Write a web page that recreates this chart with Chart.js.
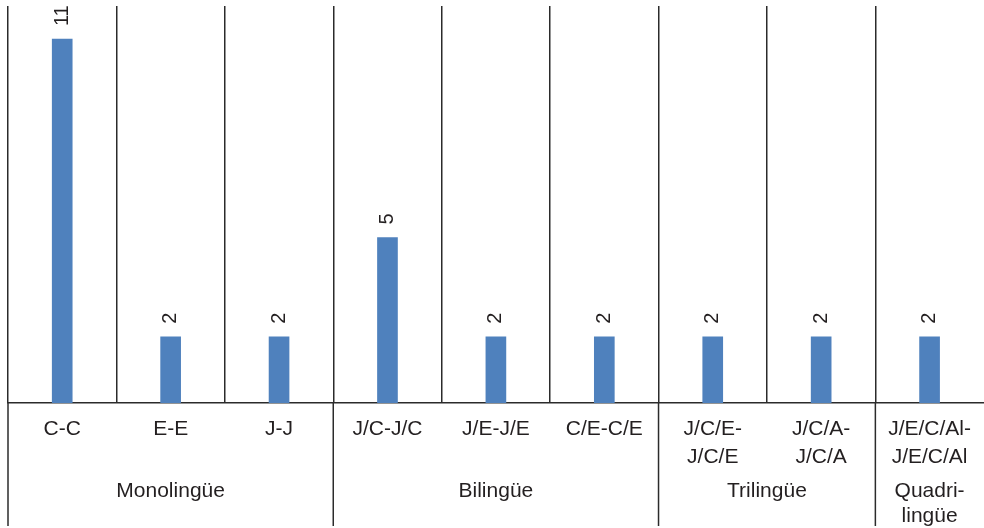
<!DOCTYPE html>
<html>
<head>
<meta charset="utf-8">
<script src="https://cdn.jsdelivr.net/npm/chart.js@4"></script>
<style>
    html, body { margin: 0; padding: 0; background: #fff; }
    #wrap { width: 984px; height: 528px; }
</style>
</head>
<body>
<div id="wrap"><canvas id="pairChart"></canvas></div>
<script>
const categories = [['C-C'], ['E-E'], ['J-J'], ['J/C-J/C'], ['J/E-J/E'], ['C/E-C/E'],
    ['J/C/E-', 'J/C/E'], ['J/C/A-', 'J/C/A'], ['J/E/C/Al-', 'J/E/C/Al']];
const counts = [11, 2, 2, 5, 2, 2, 2, 2, 2];
const groups = [['Monolingüe'], ['Bilingüe'], ['Trilingüe'], ['Quadri-', 'lingüe']];
const groupSizes = [3, 3, 2, 1];

const FONT = '"Liberation Sans", Arial, Helvetica, sans-serif';
const INK = '#231f20';
const LINE = '#2b2b2b';

// values above the bars, turned on their side
const valueLabels = {
    id: 'valueLabels',
    afterDatasetsDraw(chart) {
        const ctx = chart.ctx;
        const meta = chart.getDatasetMeta(0);
        ctx.save();
        ctx.fillStyle = INK;
        ctx.font = '20px ' + FONT;
        ctx.textAlign = 'left';
        ctx.textBaseline = 'middle';
        meta.data.forEach((bar, i) => {
            ctx.save();
            ctx.translate(bar.x, bar.y - 13);
            ctx.rotate(-Math.PI / 2);
            ctx.fillText(String(counts[i]), 0, 0);
            ctx.restore();
        });
        ctx.restore();
    }
};

// group names under the category labels and the long separator lines
const groupAxis = {
    id: 'groupAxis',
    afterDraw(chart) {
        const ctx = chart.ctx;
        const x = chart.scales.x;
        const bottom = chart.chartArea.bottom;
        ctx.save();
        ctx.strokeStyle = LINE;
        ctx.lineWidth = 1.5;
        ctx.fillStyle = INK;
        ctx.font = '21px ' + FONT;
        ctx.textAlign = 'center';
        ctx.textBaseline = 'middle';
        let start = 0;
        groupSizes.forEach((size, g) => {
            const left = x.getPixelForValue(start - 0.5);
            const right = x.getPixelForValue(start + size - 0.5);
            ctx.beginPath();
            ctx.moveTo(left, bottom);
            ctx.lineTo(left, 526);
            ctx.stroke();
            groups[g].forEach((line, k) => {
                ctx.fillText(line, (left + right) / 2, 491 + k * 25);
            });
            start += size;
        });
        ctx.restore();
    }
};

new Chart(document.getElementById('pairChart'), {
    type: 'bar',
    data: {
        labels: categories,
        datasets: [{
            data: counts,
            backgroundColor: '#4f81bd',
            barThickness: 20
        }]
    },
    options: {
        responsive: true,
        maintainAspectRatio: false,
        animation: false,
        layout: { padding: { left: 8, right: 0, top: 6, bottom: 0 } },
        plugins: {
            legend: { display: false },
            tooltip: { enabled: false }
        },
        scales: {
            x: {
                offset: true,
                grid: {
                    offset: true,
                    drawTicks: false,
                    // no closing line at the right edge
                    color: c => c.type === 'tick' ? LINE : 'rgba(0,0,0,0)',
                    lineWidth: 1.5
                },
                border: { display: true, color: LINE, width: 1.5 },
                ticks: {
                    color: INK,
                    padding: 13,
                    maxRotation: 0,
                    autoSkip: false,
                    font: { family: FONT, size: 21, lineHeight: 1.3 }
                },
                afterFit(scale) { scale.height = 125; }
            },
            y: {
                display: false,
                min: 0,
                max: 12
            }
        }
    },
    plugins: [valueLabels, groupAxis]
});
</script>
</body>
</html>
